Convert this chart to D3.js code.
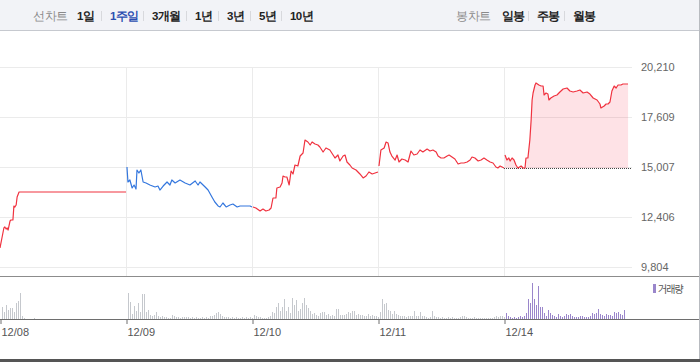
<!DOCTYPE html>
<html>
<head>
<meta charset="utf-8">
<script src="https://cdn.jsdelivr.net/npm/d3@7"></script>
<style>
html, body { margin: 0; padding: 0; background: #fff; }
svg { display: block; }
text { font-family: "Liberation Sans", Arial, sans-serif; }
.kr { font-family: "Noto Sans CJK KR", "Noto Sans", sans-serif; }
</style>
</head>
<body>
<svg id="chart" width="700" height="362"></svg>
<script>
"use strict";
// ---- data ----
var days = ["12/08", "12/09", "12/10", "12/11", "12/14"];
var sessionMin = 390;              // minutes per trading day
var priceTicks = [9804, 12406, 15007, 17609, 20210];

// [minutes since open, price]
var price1208 = [[0,10793],[6,11313],[12,11833],[15,11885],[19,11781],[22,11833],[25,11729],[31,12197],[34,12249],[40,12249],[43,12978],[46,12926],[50,13030],[53,13446],[59,13706],[390,13706]];
var price1209 = [[3,15007],[6,14227],[12,14331],[19,13914],[25,14070],[31,13862],[34,14851],[40,14695],[46,14851],[53,14227],[62,14175],[74,14070],[90,13966],[99,14018],[105,13810],[115,14018],[127,14227],[136,14070],[142,14331],[152,14175],[167,14331],[183,14175],[198,14070],[214,14279],[223,14070],[229,14227],[245,13966],[254,13810],[266,13446],[275,13186],[285,12978],[291,12926],[300,13134],[310,12926],[322,13030],[331,13082],[344,12926],[353,12978],[368,12978],[384,12978],[390,12926]];
var price1210 = [[3,12926],[12,12874],[25,12718],[34,12822],[43,12718],[53,12770],[59,12874],[65,13394],[74,13394],[77,13914],[87,13966],[93,14175],[96,14539],[102,14487],[108,14487],[115,14070],[121,14799],[127,14643],[133,15111],[142,15059],[149,15579],[158,15735],[164,16412],[173,16308],[180,16152],[186,16308],[195,16204],[204,16152],[210,16048],[220,15787],[229,15996],[241,15892],[251,15631],[257,15475],[266,15631],[272,15319],[282,15579],[288,15631],[294,15267],[303,15111],[310,14955],[322,14851],[334,14643],[344,14435],[353,14539],[362,14747],[372,14643],[381,14695],[390,14747]];
var price1211 = [[3,15059],[9,15892],[19,15996],[25,16308],[31,16256],[37,15787],[43,15579],[53,15371],[59,15631],[65,15267],[74,15423],[84,15371],[93,15267],[102,15839],[111,15631],[121,15683],[130,15892],[139,15787],[152,15944],[161,15839],[170,15892],[180,15787],[186,15579],[195,15475],[204,15475],[214,15579],[220,15631],[229,15527],[238,15423],[248,15163],[257,15215],[266,15215],[276,15267],[285,15371],[291,15527],[300,15475],[310,15319],[319,15371],[328,15475],[337,15371],[347,15267],[356,15215],[365,15007],[371,14955],[378,15059],[384,15007],[390,14955]];
var price1214 = [[3,15631],[9,15371],[15,15475],[19,15319],[25,15475],[31,15371],[37,15111],[43,14955],[53,15059],[59,14955],[65,14955],[68,15475],[74,15475],[80,16412],[84,17452],[87,18493],[90,18857],[96,19273],[99,19378],[108,19273],[115,19221],[121,19221],[124,18753],[130,18857],[136,18805],[139,18493],[145,18597],[155,18701],[164,18753],[173,18909],[183,19065],[195,19117],[204,18961],[214,18909],[226,18961],[235,19013],[245,18857],[257,18909],[266,18805],[276,18597],[288,18493],[297,18285],[300,18077],[310,18181],[316,18285],[322,18285],[328,18389],[334,18961],[341,19221],[347,19117],[353,19273],[362,19273],[368,19325],[384,19325]];
var prices = [price1208, price1209, price1210, price1211, price1214];

// volume per bar (thousand shares), 63 bars per day
var barsPerDay = 63;
var vol1208 = [12,7,14,9,11,11,7,16,18,26,3,1,0,0,0,0,1];
var vol1209 = [26,17,5,13,8,16,7,25,25,7,9,4,3,4,7,3,2,3,2,2,1,1,4,3,2,2,1,2,2,2,2,1,2,1,2,1,1,2,1,2,1,3,3,4,6,7,5,3,2,2,2,1,2,1,2,1,1,2,1,2,1,2,1];
var vol1210 = [4,3,2,2,1,1,1,2,3,7,6,12,16,8,12,20,8,12,6,21,14,19,8,10,16,21,14,11,8,5,6,4,3,6,7,7,4,5,3,4,3,10,10,4,4,4,5,7,6,8,8,4,5,4,4,3,3,5,3,4,3,3,2];
var vol1211 = [7,20,15,16,9,8,5,8,5,4,3,3,3,2,3,3,3,8,3,3,7,3,3,2,1,2,8,3,2,2,1,2,1,1,2,1,2,1,1,1,2,3,3,2,1,1,1,2,1,1,1,1,1,1,1,1,1,2,3,2,3,3,2];
var vol1214 = [6,3,2,1,2,1,2,3,2,3,6,20,16,36,20,14,33,12,12,6,3,9,6,4,3,2,5,3,2,3,5,4,5,3,2,2,2,3,3,2,2,2,3,6,5,6,10,5,4,3,5,4,4,3,7,6,7,5,4,9];
var volumes = [vol1208, vol1209, vol1210, vol1211, vol1214];

var lineTabs = ["1일", "1주일", "3개월", "1년", "3년", "5년", "10년"];
var activeTab = "1주일";
var candleTabs = ["일봉", "주봉", "월봉"];

// ---- layout of the tab bar ----
var lineTabX = [77, 110, 152, 195, 227, 259, 290];
var candleTabX = [502, 537, 573];

// ---- colors ----
var upColor = "#f0323f";
var downColor = "#3477de";
var volColor = "#c5c8cd";
var volTodayColor = "#9a86cb";

var svg = d3.select("#chart");

var x = d3.scaleLinear().domain([0, days.length * sessionMin]).range([0, 630]);
var y = d3.scaleLinear().domain([priceTicks[0], priceTicks[priceTicks.length - 1]]).range([267, 67]);
var yv = d3.scaleLinear().domain([0, 40]).range([319, 279]);

function crisp(v) { return Math.round(v) + 0.5; }

// header bar
svg.append("rect")
	.attr("x", 0).attr("y", 0)
	.attr("width", 699).attr("height", 30)
	.attr("fill", "#f2f3f7");
svg.append("line")
	.attr("x1", 0).attr("x2", 700)
	.attr("y1", 30.5).attr("y2", 30.5)
	.attr("stroke", "#c6c9cf");

function drawTabs(title, titleX, tabs, tabX) {
	var g = svg.append("g").attr("class", "kr");
	g.append("text")
		.attr("x", titleX).attr("y", 20)
		.attr("font-size", 11.5)
		.attr("fill", "#8a8a8a")
		.attr("letter-spacing", -0.5)
		.text(title);
	tabs.forEach(function(t, i) {
		g.append("text")
			.attr("x", tabX[i]).attr("y", 20)
			.attr("font-size", 11.5)
			.attr("font-weight", "bold")
			.attr("letter-spacing", -0.6)
			.attr("fill", t == activeTab ? "#2c4fb1" : "#222")
			.text(t);
		if (i < tabs.length - 1) {
			// separator halfway between this label and the next
			var sx = crisp(tabX[i + 1] - 9);
			g.append("line")
				.attr("x1", sx).attr("x2", sx)
				.attr("y1", 11).attr("y2", 21)
				.attr("stroke", "#d8d9dd");
		}
	});
}
drawTabs("선차트", 33, lineTabs, lineTabX);
drawTabs("봉차트", 456, candleTabs, candleTabX);

// grid
svg.append("g").selectAll("line")
	.data(priceTicks)
	.enter().append("line")
	.attr("x1", 0).attr("x2", 632)
	.attr("y1", function(d) { return crisp(y(d)); })
	.attr("y2", function(d) { return crisp(y(d)); })
	.attr("stroke", "#ebebeb");
svg.append("g").selectAll("line")
	.data(days.slice(1))
	.enter().append("line")
	.attr("x1", function(d, i) { return crisp(x((i + 1) * sessionMin)); })
	.attr("x2", function(d, i) { return crisp(x((i + 1) * sessionMin)); })
	.attr("y1", 67).attr("y2", 276)
	.attr("stroke", "#ebebeb");

// y axis labels
var yAxis = svg.append("g")
	.attr("transform", "translate(641,0)")
	.call(d3.axisRight(y).tickValues(priceTicks).tickSize(0).tickPadding(0).tickFormat(d3.format(",")));
yAxis.select(".domain").remove();
yAxis.selectAll("text")
	.attr("font-size", 11)
	.attr("font-family", "Liberation Sans, Arial, sans-serif")
	.attr("fill", "#666");

// last day area + base line
var last = days.length - 1;
var baseClose = prices[last - 1][prices[last - 1].length - 1][1];
var dayOffset = function(i) { return i * sessionMin; };
var area = d3.area()
	.x(function(d) { return x(dayOffset(last) + d[0]); })
	.y0(y(baseClose))
	.y1(function(d) { return y(d[1]); });
svg.append("path")
	.datum(prices[last])
	.attr("d", area)
	.attr("fill", "rgba(245,50,75,0.14)");
svg.append("line")
	.attr("x1", x(dayOffset(last))).attr("x2", 632)
	.attr("y1", crisp(y(baseClose))).attr("y2", crisp(y(baseClose)))
	.attr("stroke", "#444")
	.attr("stroke-dasharray", "1,1");

// price lines, one path per day
prices.forEach(function(series, i) {
	var close = series[series.length - 1][1];
	var prev = i > 0 ? prices[i - 1][prices[i - 1].length - 1][1] : series[0][1];
	var line = d3.line()
		.x(function(d) { return x(dayOffset(i) + d[0]); })
		.y(function(d) { return y(d[1]); });
	svg.append("path")
		.datum(series)
		.attr("d", line)
		.attr("fill", "none")
		.attr("stroke", close >= prev ? upColor : downColor)
		.attr("stroke-width", 1.2)
		.attr("stroke-linejoin", "round");
});

// panel separator
svg.append("line")
	.attr("x1", 0).attr("x2", 700)
	.attr("y1", 276.5).attr("y2", 276.5)
	.attr("stroke", "#8c8c8c");

// volume bars
var barMin = sessionMin / barsPerDay;
volumes.forEach(function(vols, i) {
	svg.append("g").selectAll("line")
		.data(vols)
		.enter().append("line")
		.attr("x1", function(d, j) { return crisp(x(dayOffset(i) + (j + 1) * barMin)); })
		.attr("x2", function(d, j) { return crisp(x(dayOffset(i) + (j + 1) * barMin)); })
		.attr("y1", yv(0))
		.attr("y2", function(d) { return yv(d); })
		.attr("stroke", i == last ? volTodayColor : volColor);
});

// volume legend
svg.append("rect")
	.attr("x", 653).attr("y", 284)
	.attr("width", 3).attr("height", 9)
	.attr("fill", volTodayColor);
svg.append("text")
	.attr("class", "kr")
	.attr("x", 658).attr("y", 292.5)
	.attr("font-size", 10)
	.attr("letter-spacing", -1)
	.attr("fill", "#555")
	.text("거래량");

// x axis
svg.append("line")
	.attr("x1", 0).attr("x2", 700)
	.attr("y1", 319.5).attr("y2", 319.5)
	.attr("stroke", "#6e6e6e");
var xAxis = svg.append("g")
	.attr("transform", "translate(0,319)")
	.call(d3.axisBottom(x)
		.tickValues(days.map(function(d, i) { return dayOffset(i); }))
		.tickSize(5)
		.tickFormat(function(d, i) { return days[i]; }));
xAxis.select(".domain").remove();
xAxis.selectAll("line").attr("stroke", "#6e6e6e").attr("transform", "translate(0.5,0)");
xAxis.selectAll("text")
	.attr("text-anchor", "start")
	.attr("x", 1)
	.attr("y", 9)
	.attr("font-size", 11)
	.attr("font-family", "Liberation Sans, Arial, sans-serif")
	.attr("fill", "#555");

// frame
svg.append("line")
	.attr("x1", 699.5).attr("x2", 699.5)
	.attr("y1", 0).attr("y2", 362)
	.attr("stroke", "#b8bbc0");
svg.append("rect")
	.attr("x", 0).attr("y", 359)
	.attr("width", 700).attr("height", 3)
	.attr("fill", "#555");
</script>
</body>
</html>
